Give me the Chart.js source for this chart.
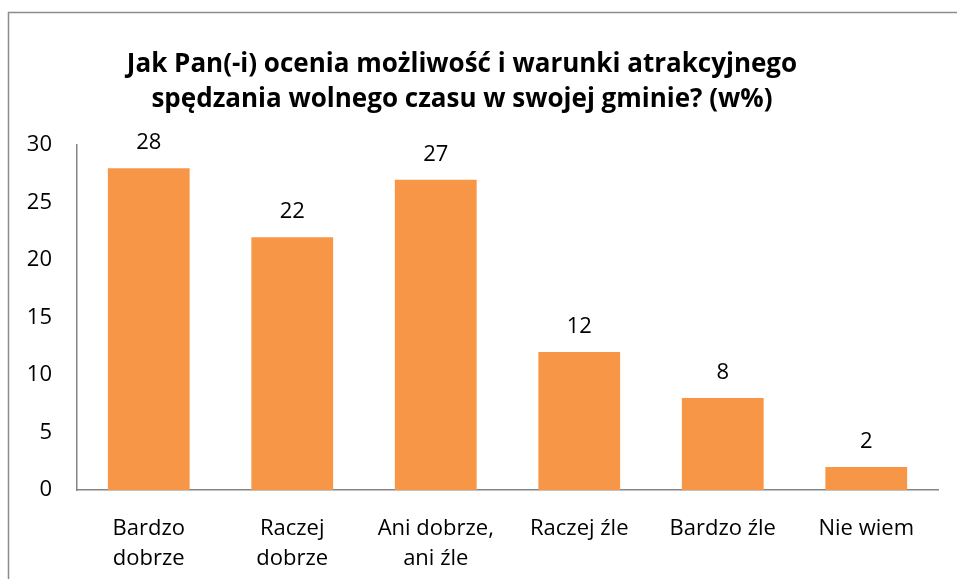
<!DOCTYPE html>
<html>
<head>
<meta charset="utf-8">
<script src="https://cdn.jsdelivr.net/npm/chart.js@4/dist/chart.umd.min.js"></script>
<style>
  html, body { margin: 0; padding: 0; background: #fff; }
  #wrap { width: 957px; height: 579px; }
</style>
</head>
<body>
<div id="wrap"><canvas id="barChart" width="957" height="579"></canvas></div>
<script>
  'use strict';

  var categories = [
    ['Bardzo', 'dobrze'],
    ['Raczej', 'dobrze'],
    ['Ani dobrze,', 'ani źle'],
    'Raczej źle',
    'Bardzo źle',
    'Nie wiem'
  ];
  var percentValues = [28, 22, 27, 12, 8, 2];
  var yTicks = [0, 5, 10, 15, 20, 25, 30];

  var titleLines = [
    'Jak Pan(-i) ocenia możliwość i warunki atrakcyjnego',
    'spędzania wolnego czasu w swojej gminie? (w%)'
  ];

  var fontFamily = '"Open Sans", "Noto Sans", sans-serif';
  var axisColor = '#868686';

  // frame around the chart (only top and left edges fall inside the canvas)
  var framePlugin = {
    id: 'frame',
    beforeDraw: function(chart) {
      var ctx = chart.ctx;
      ctx.save();
      ctx.strokeStyle = '#8c8c8c';
      ctx.lineWidth = 1.5;
      ctx.beginPath();
      ctx.moveTo(8.5, chart.height);
      ctx.lineTo(8.5, 12.5);
      ctx.lineTo(chart.width, 12.5);
      ctx.stroke();
      ctx.restore();
    }
  };

  // values written above each bar
  var valueLabels = {
    id: 'valueLabels',
    afterDatasetsDraw: function(chart) {
      var ctx = chart.ctx;
      var meta = chart.getDatasetMeta(0);
      ctx.save();
      ctx.font = '22px ' + fontFamily;
      ctx.fillStyle = '#000';
      ctx.textAlign = 'center';
      ctx.textBaseline = 'middle';
      meta.data.forEach(function(bar, i) {
        ctx.fillText(String(percentValues[i]), bar.x, bar.y - 25);
      });
      ctx.restore();
    }
  };

  // shift the title's centre a little to the left of the canvas middle
  var titleShift = {
    id: 'titleShift',
    afterLayout: function(chart) {
      if (chart.titleBlock) {
        chart.titleBlock.left = 8;
        chart.titleBlock.right = 916;
      }
    }
  };

  var ctx = document.getElementById('barChart').getContext('2d');
  new Chart(ctx, {
    type: 'bar',
    data: {
      labels: categories,
      datasets: [{
        data: percentValues,
        backgroundColor: '#F79646',
        borderWidth: 0,
        categoryPercentage: 1.0,
        barPercentage: 0.57
      }]
    },
    options: {
      responsive: false,
      animation: false,
      layout: {
        padding: { left: 8, right: 19, top: 0, bottom: 0 }
      },
      plugins: {
        legend: { display: false },
        tooltip: { enabled: false },
        title: {
          display: true,
          text: titleLines,
          color: '#000',
          font: { family: fontFamily, size: 26, weight: 'bold', lineHeight: 1.35 },
          padding: { top: 47, bottom: 28 }
        }
      },
      scales: {
        x: {
          grid: { display: false, drawTicks: false },
          border: { display: true, color: axisColor, width: 1.5 },
          ticks: {
            color: '#000',
            padding: 24,
            maxRotation: 0,
            autoSkip: false,
            font: { family: fontFamily, size: 22, lineHeight: 1.36 }
          },
          afterFit: function(scale) { scale.height = 89; }
        },
        y: {
          min: 0,
          max: 30,
          afterBuildTicks: function(scale) {
            scale.ticks = yTicks.map(function(v) { return { value: v }; });
          },
          grid: { display: false, drawTicks: false },
          border: { display: true, color: axisColor, width: 1.5 },
          ticks: {
            color: '#000',
            padding: 25,
            font: { family: fontFamily, size: 22 }
          },
          afterFit: function(scale) { scale.width = 69; }
        }
      }
    },
    plugins: [framePlugin, valueLabels, titleShift]
  });
</script>
</body>
</html>
